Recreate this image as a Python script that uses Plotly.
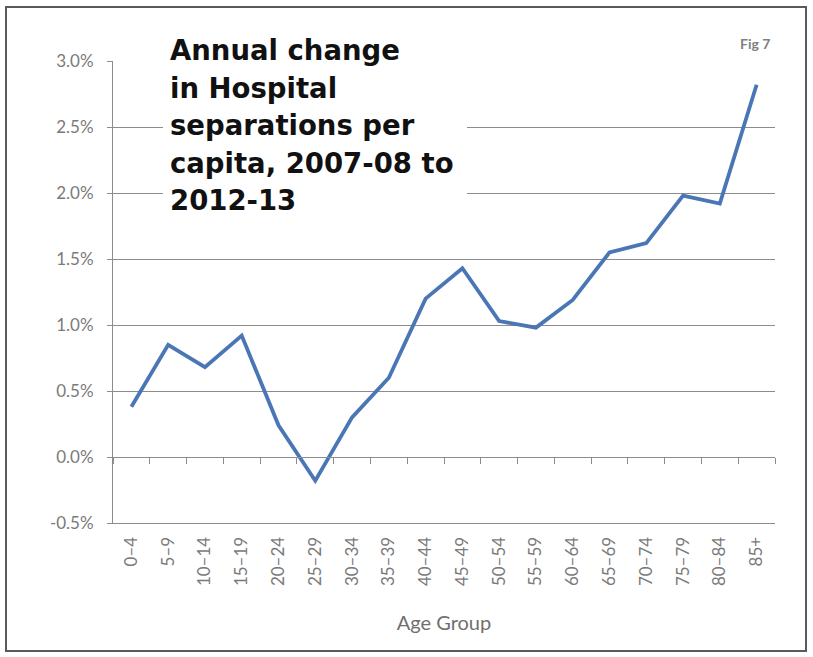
import plotly.graph_objects as go

age_groups = ["0–4", "5–9", "10–14", "15–19", "20–24", "25–29", "30–34", "35–39", "40–44",
              "45–49", "50–54", "55–59", "60–64", "65–69", "70–74", "75–79", "80–84", "85+"]
annual_change = [0.38, 0.85, 0.68, 0.92, 0.24, -0.18, 0.30, 0.60, 1.20,
                 1.43, 1.03, 0.98, 1.19, 1.55, 1.62, 1.98, 1.92, 2.82]
y_ticks = [-0.5, 0.0, 0.5, 1.0, 1.5, 2.0, 2.5, 3.0]
y_labels = [f"{v:.1f}%" for v in y_ticks]

title_lines = ["Annual change", "in Hospital", "separations per", "capita, 2007-08 to", "2012-13"]

W, H = 813, 657
L, R, T, B = 113, 38, 61, 134
pw, ph = W - L - R, H - T - B

def px_x(x):
    return (x - L) / pw

def px_y(y):
    return (H - B - y) / ph

grey = "#8c8c8c"
label_grey = "#7a7a7a"
fig = go.Figure()
fig.add_trace(go.Scatter(x=age_groups, y=annual_change, mode="lines",
                         line=dict(color="#4a76b5", width=3.8), showlegend=False))
fig.add_trace(go.Scatter(x=age_groups, y=annual_change, mode="lines", xaxis="x2",
                         line=dict(color="rgba(0,0,0,0)", width=0), showlegend=False,
                         hoverinfo="skip"))

ymin, ymax = y_ticks[0], y_ticks[-1]

annotations = []
for i, line in enumerate(title_lines):
    annotations.append(dict(text=line, xref="paper", yref="paper", x=px_x(168), y=px_y(50 + 37.5 * i),
                            xanchor="left", yanchor="middle", align="left", showarrow=False,
                            font=dict(family="DejaVu Sans", size=27.5, color="#111111", weight="bold")))
annotations.append(dict(text="<b>Fig 7</b>", xref="paper", yref="paper", x=px_x(772), y=px_y(43),
                        xanchor="right", yanchor="middle", showarrow=False,
                        font=dict(family="Lato", size=14, color="#7f7f7f")))

fig.update_layout(
    width=W, height=H,
    margin=dict(l=L, r=R, t=T, b=B),
    paper_bgcolor="white", plot_bgcolor="white",
    xaxis=dict(type="category", categoryorder="array", categoryarray=age_groups,
               range=[-0.5, len(age_groups) - 0.5], tickangle=-90, ticks="",
               showgrid=False, showline=True, linecolor=grey, linewidth=1,
               ticklabelstandoff=6,
               tickfont=dict(family="Lato", size=17, color=label_grey),
               title=dict(text="Age Group", font=dict(family="Lato", size=20, color="#6f6f6f"),
                          standoff=30)),
    xaxis2=dict(type="category", categoryorder="array", categoryarray=age_groups,
                overlaying="x", anchor="free", position=(0 - ymin) / (ymax - ymin),
                range=[-0.5, len(age_groups) - 0.5], tickson="boundaries",
                ticks="outside", ticklen=6, tickcolor=grey, showticklabels=False,
                showgrid=False, showline=True, linecolor=grey, linewidth=1),
    yaxis=dict(range=[ymin, ymax], tickvals=y_ticks, ticktext=y_labels,
               showgrid=True, gridcolor=grey, gridwidth=1, zeroline=False,
               showline=True, linecolor=grey, linewidth=1,
               ticks="outside", ticklen=5, tickcolor=grey, ticklabelstandoff=10,
               tickfont=dict(family="Lato", size=17, color=label_grey)),
    shapes=[
        dict(type="rect", xref="paper", yref="paper",
             x0=px_x(163), x1=px_x(467), y0=px_y(228), y1=px_y(28),
             line=dict(width=0), fillcolor="white", layer="above"),
        dict(type="rect", xref="paper", yref="paper",
             x0=px_x(6), x1=px_x(806), y0=px_y(651), y1=px_y(7),
             line=dict(color="#5a5a5a", width=2), fillcolor="rgba(0,0,0,0)", layer="above"),
    ],
    annotations=annotations,
)

fig.write_html("out.html", config={"displayModeBar": False},
               post_script="document.body.style.margin='0';")
